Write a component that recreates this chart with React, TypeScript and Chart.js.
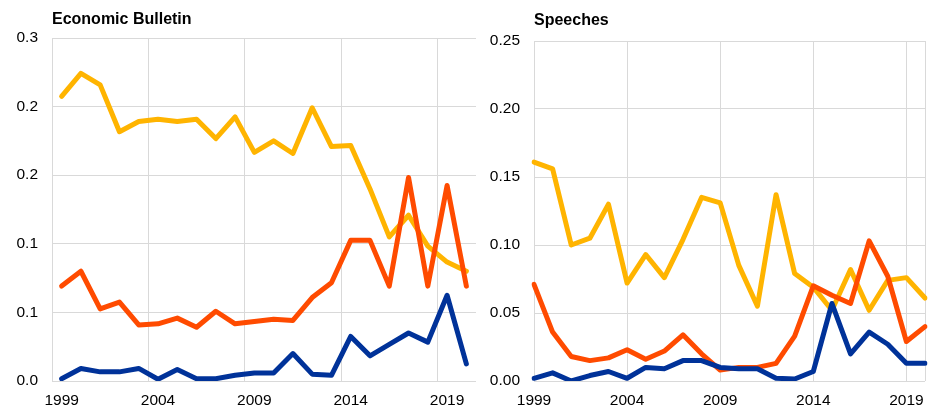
import React, { useEffect, useRef } from 'react';
import { Chart, registerables } from 'chart.js';

Chart.register(...registerables);

// ---- data ----
const years = [
  '1999', '2000', '2001', '2002', '2003', '2004', '2005', '2006', '2007', '2008', '2009',
  '2010', '2011', '2012', '2013', '2014', '2015', '2016', '2017', '2018', '2019', '2020',
];

// Economic Bulletin
const ebYellow = [0.249, 0.269, 0.259, 0.218, 0.227, 0.229, 0.227, 0.229, 0.212, 0.231, 0.2, 0.21, 0.199, 0.239, 0.205, 0.206, 0.168, 0.126, 0.145, 0.118, 0.104, 0.096];
const ebOrange = [0.083, 0.096, 0.063, 0.069, 0.049, 0.05, 0.055, 0.047, 0.061, 0.05, 0.052, 0.054, 0.053, 0.073, 0.086, 0.123, 0.123, 0.083, 0.178, 0.083, 0.171, 0.083];
const ebBlue = [0.002, 0.011, 0.008, 0.008, 0.011, 0.0015, 0.01, 0.002, 0.002, 0.005, 0.007, 0.007, 0.024, 0.006, 0.005, 0.039, 0.022, 0.032, 0.042, 0.034, 0.075, 0.015];

// Speeches
const spYellow = [0.161, 0.156, 0.1, 0.105, 0.13, 0.072, 0.093, 0.076, 0.104, 0.135, 0.131, 0.085, 0.055, 0.137, 0.079, 0.069, 0.052, 0.082, 0.052, 0.074, 0.076, 0.061];
const spOrange = [0.071, 0.036, 0.018, 0.015, 0.017, 0.023, 0.016, 0.022, 0.034, 0.02, 0.008, 0.01, 0.01, 0.013, 0.033, 0.07, 0.063, 0.057, 0.103, 0.077, 0.029, 0.04];
const spBlue = [0.002, 0.006, 0.0, 0.004, 0.007, 0.002, 0.01, 0.009, 0.015, 0.015, 0.01, 0.009, 0.009, 0.002, 0.0015, 0.007, 0.057, 0.02, 0.036, 0.027, 0.013, 0.013];

const YELLOW = '#FFB400';
const ORANGE = '#FF4B00';
const BLUE = '#003299';
const GRID = '#d9d9d9';
const FAMILY = '"Liberation Sans", Arial, sans-serif';

type Series = { label: string; data: number[]; color: string };

type PanelProps = {
  title: string;
  left: number;
  width: number;
  padTop: number;
  padRight: number;
  yAxisWidth: number;
  yMax: number;
  yStep: number;
  decimals: number;
  offset: boolean;
  titleY: number;
  series: Series[];
};

function Panel(props: PanelProps) {
  const ref = useRef<HTMLCanvasElement>(null);
  useEffect(() => {
    const p = props;
    const titlePlugin = {
      id: 'panelTitle',
      afterDraw(chart: any) {
        const { ctx, chartArea } = chart;
        ctx.save();
        ctx.font = `bold 16px ${FAMILY}`;
        ctx.fillStyle = '#000';
        ctx.textAlign = 'left';
        ctx.textBaseline = 'alphabetic';
        ctx.fillText(p.title, chartArea.left, p.titleY);
        ctx.restore();
      },
    };
    const chart = new Chart(ref.current as HTMLCanvasElement, {
      type: 'line',
      data: {
        labels: years,
        datasets: p.series.map((s) => ({
          label: s.label,
          data: s.data,
          borderColor: s.color,
          backgroundColor: s.color,
          borderWidth: 5,
          pointRadius: 0,
          pointHoverRadius: 0,
          tension: 0,
          fill: false,
          borderJoinStyle: 'round',
          borderCapStyle: 'round',
        })),
      },
      options: {
        responsive: false,
        animation: false,
        events: [],
        layout: { padding: { left: 0, top: p.padTop, right: p.padRight, bottom: 0 } },
        plugins: {
          legend: { display: false },
          tooltip: { enabled: false },
          title: { display: false },
        },
        scales: {
          x: {
            type: 'category',
            offset: p.offset,
            grid: {
              offset: p.offset,
              drawTicks: false,
              lineWidth: 1,
              color: (c: any) =>
                typeof c.index === 'number' &&
                (c.index % 5 === 0 || (!p.offset && c.index === years.length - 1))
                  ? GRID
                  : 'rgba(0,0,0,0)',
            },
            border: { display: false },
            ticks: {
              autoSkip: false,
              maxRotation: 0,
              minRotation: 0,
              padding: 10,
              color: '#000',
              font: { size: 15.5, family: FAMILY },
              callback: (_v: any, i: number) => (i % 5 === 0 ? years[i] : ''),
            },
            afterFit: (s: any) => {
              s.height = 29;
              s.paddingLeft = 0;
              s.paddingRight = 0;
            },
          },
          y: {
            min: 0,
            max: p.yMax,
            grid: { color: GRID, drawTicks: false, lineWidth: 1 },
            border: { display: true, color: GRID },
            ticks: {
              stepSize: p.yStep,
              padding: 14,
              color: '#000',
              font: { size: 15.5, family: FAMILY },
              callback: (v: any) => Number(v).toFixed(p.decimals),
            },
            afterFit: (s: any) => {
              s.width = p.yAxisWidth;
            },
          },
        },
      } as any,
      plugins: [titlePlugin],
    });
    return () => chart.destroy();
  }, []);
  return (
    <canvas
      ref={ref}
      width={props.width}
      height={410}
      style={{ position: 'absolute', left: props.left, top: 0, width: props.width, height: 410, display: 'block' }}
    />
  );
}

export default function App() {
  return (
    <div style={{ position: 'absolute', left: 0, top: 0, width: 930, height: 410, background: '#fff', overflow: 'hidden' }}>
      <Panel
        title="Economic Bulletin"
        left={0}
        width={478}
        padTop={38}
        padRight={2}
        yAxisWidth={52}
        yMax={0.3}
        yStep={0.06}
        decimals={1}
        offset={true}
        titleY={24}
        series={[
          { label: 'Blue', data: ebBlue, color: BLUE },
          { label: 'Orange', data: ebOrange, color: ORANGE },
          { label: 'Yellow', data: ebYellow, color: YELLOW },
        ]}
      />
      <Panel
        title="Speeches"
        left={478}
        width={452}
        padTop={41}
        padRight={5}
        yAxisWidth={56}
        yMax={0.25}
        yStep={0.05}
        decimals={2}
        offset={false}
        titleY={25}
        series={[
          { label: 'Blue', data: spBlue, color: BLUE },
          { label: 'Orange', data: spOrange, color: ORANGE },
          { label: 'Yellow', data: spYellow, color: YELLOW },
        ]}
      />
    </div>
  );
}
